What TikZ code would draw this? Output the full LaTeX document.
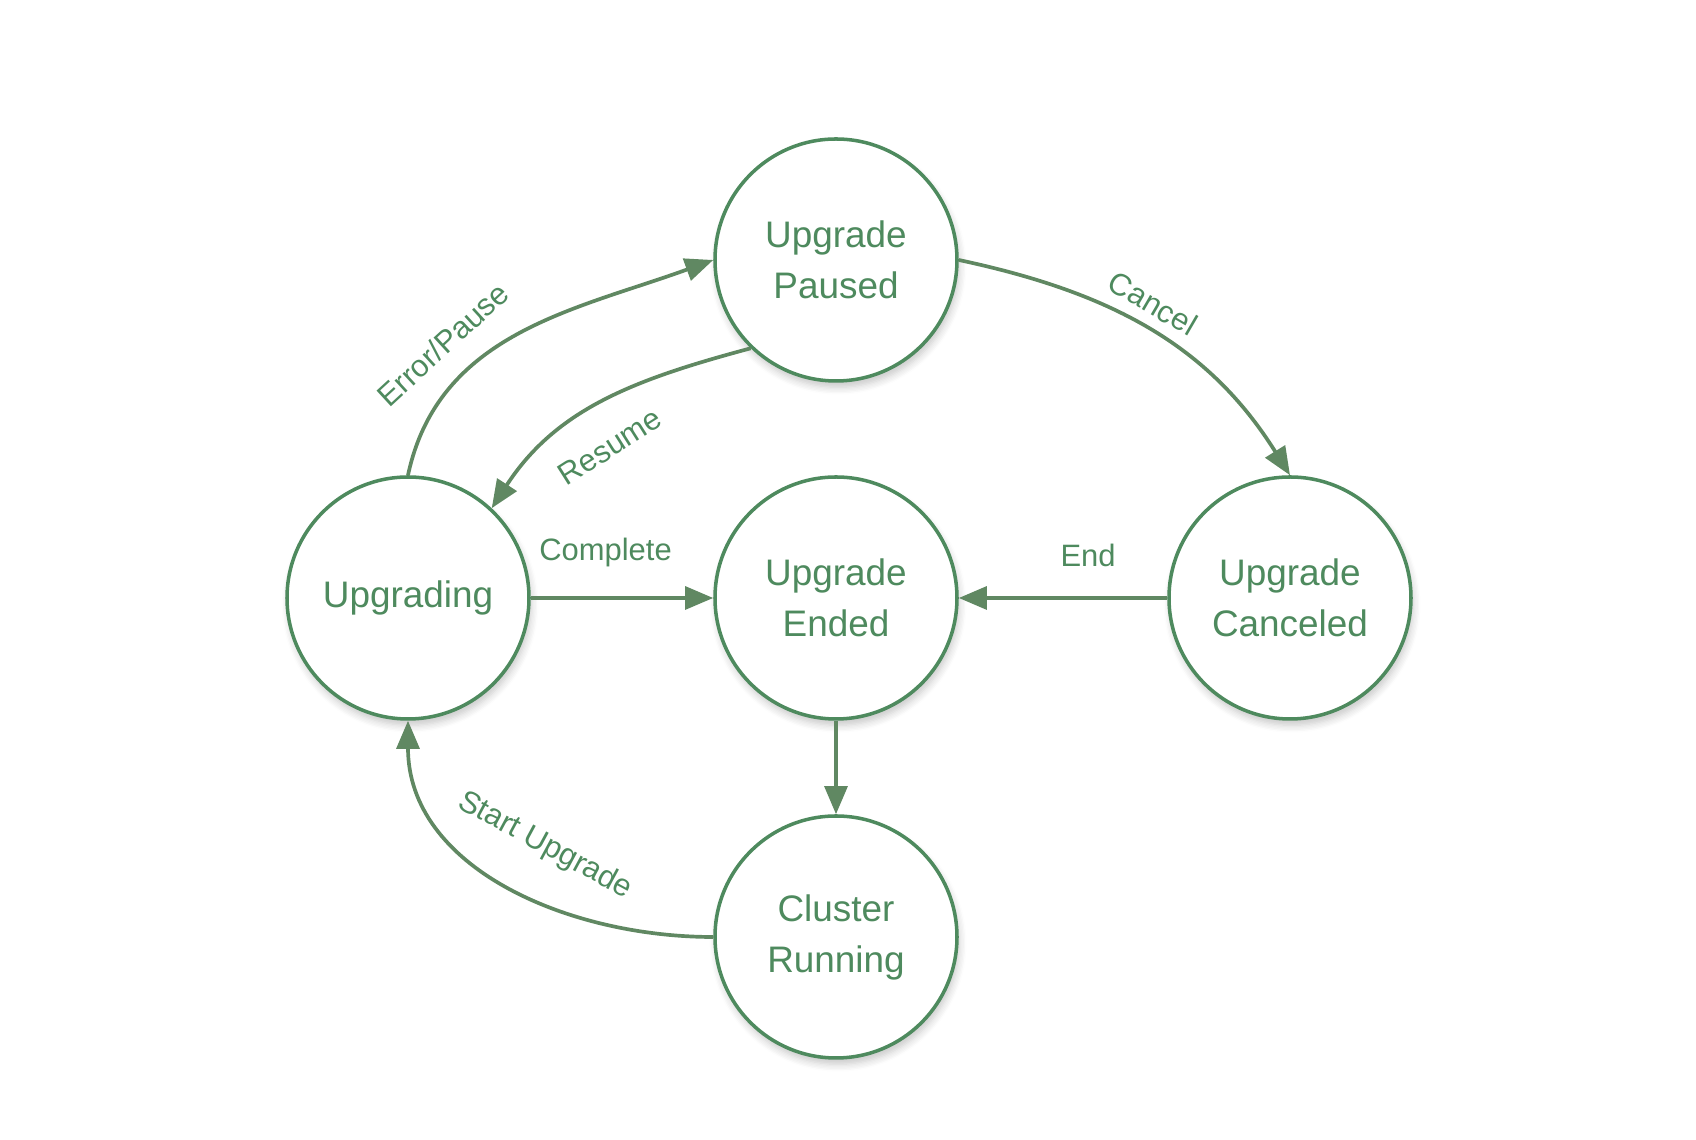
\documentclass[tikz,border=0pt]{standalone}
\usepackage{fontspec}
\setmainfont{Liberation Sans}
\usetikzlibrary{arrows.meta,shadows.blur}
\definecolor{stategreen}{RGB}{78,138,94}
\definecolor{edgegreen}{RGB}{96,136,98}

\begin{document}
\begin{tikzpicture}[state/.style={circle,draw=stategreen,line width=1pt,fill=white,minimum size=2.42cm,inner sep=0pt,align=center,text=stategreen,font=\fontsize{10.5}{14.5}\selectfont,blur shadow={shadow xshift=0.6pt,shadow yshift=-1.8pt,shadow blur steps=6,shadow opacity=22}},
  trans/.style={draw=edgegreen,line width=1.05pt,-{Triangle[length=8pt,width=6.5pt]}},
  lbl/.style={text=stategreen,font=\fontsize{8.8}{10}\selectfont}]
    \useasboundingbox (0,0) rectangle (16.96,11.40);
    % states
    \node[state] (Paused)   at (8.36,8.80) {Upgrade\\Paused};
    \node[state] (Upgrading) at (4.08,5.42) {Upgrading};
    \node[state] (Ended)    at (8.36,5.42) {Upgrade\\Ended};
    \node[state] (Canceled) at (12.90,5.42) {Upgrade\\Canceled};
    \node[state] (Running)  at (8.36,2.03) {Cluster\\Running};
    % transitions
    \draw[trans] (Upgrading.north) to[out=78,in=200] node[lbl,sloped,above=3pt,pos=0.32]{Error/Pause} (Paused.west);
    \draw[trans] (Paused.226) to[out=195,in=57] node[lbl,sloped,below=5pt,pos=0.56]{Resume} (Upgrading.47);
    \draw[trans] (Paused.east) to[out=-12,in=122] node[lbl,sloped,above=0pt,pos=0.47]{Cancel} (Canceled.north);
    \draw[trans] (Upgrading.east) -- node[lbl,above=5pt,pos=0.41]{Complete} (Ended.west);
    \draw[trans] (Canceled.west) -- node[lbl,above=5pt,pos=0.38]{End} (Ended.east);
    \draw[trans] (Ended.south) -- (Running.north);
    \draw[trans] (Running.west) to[out=180,in=-90] node[lbl,sloped,above=7pt,pos=0.46]{Start Upgrade} (Upgrading.south);
\end{tikzpicture}
\end{document}
